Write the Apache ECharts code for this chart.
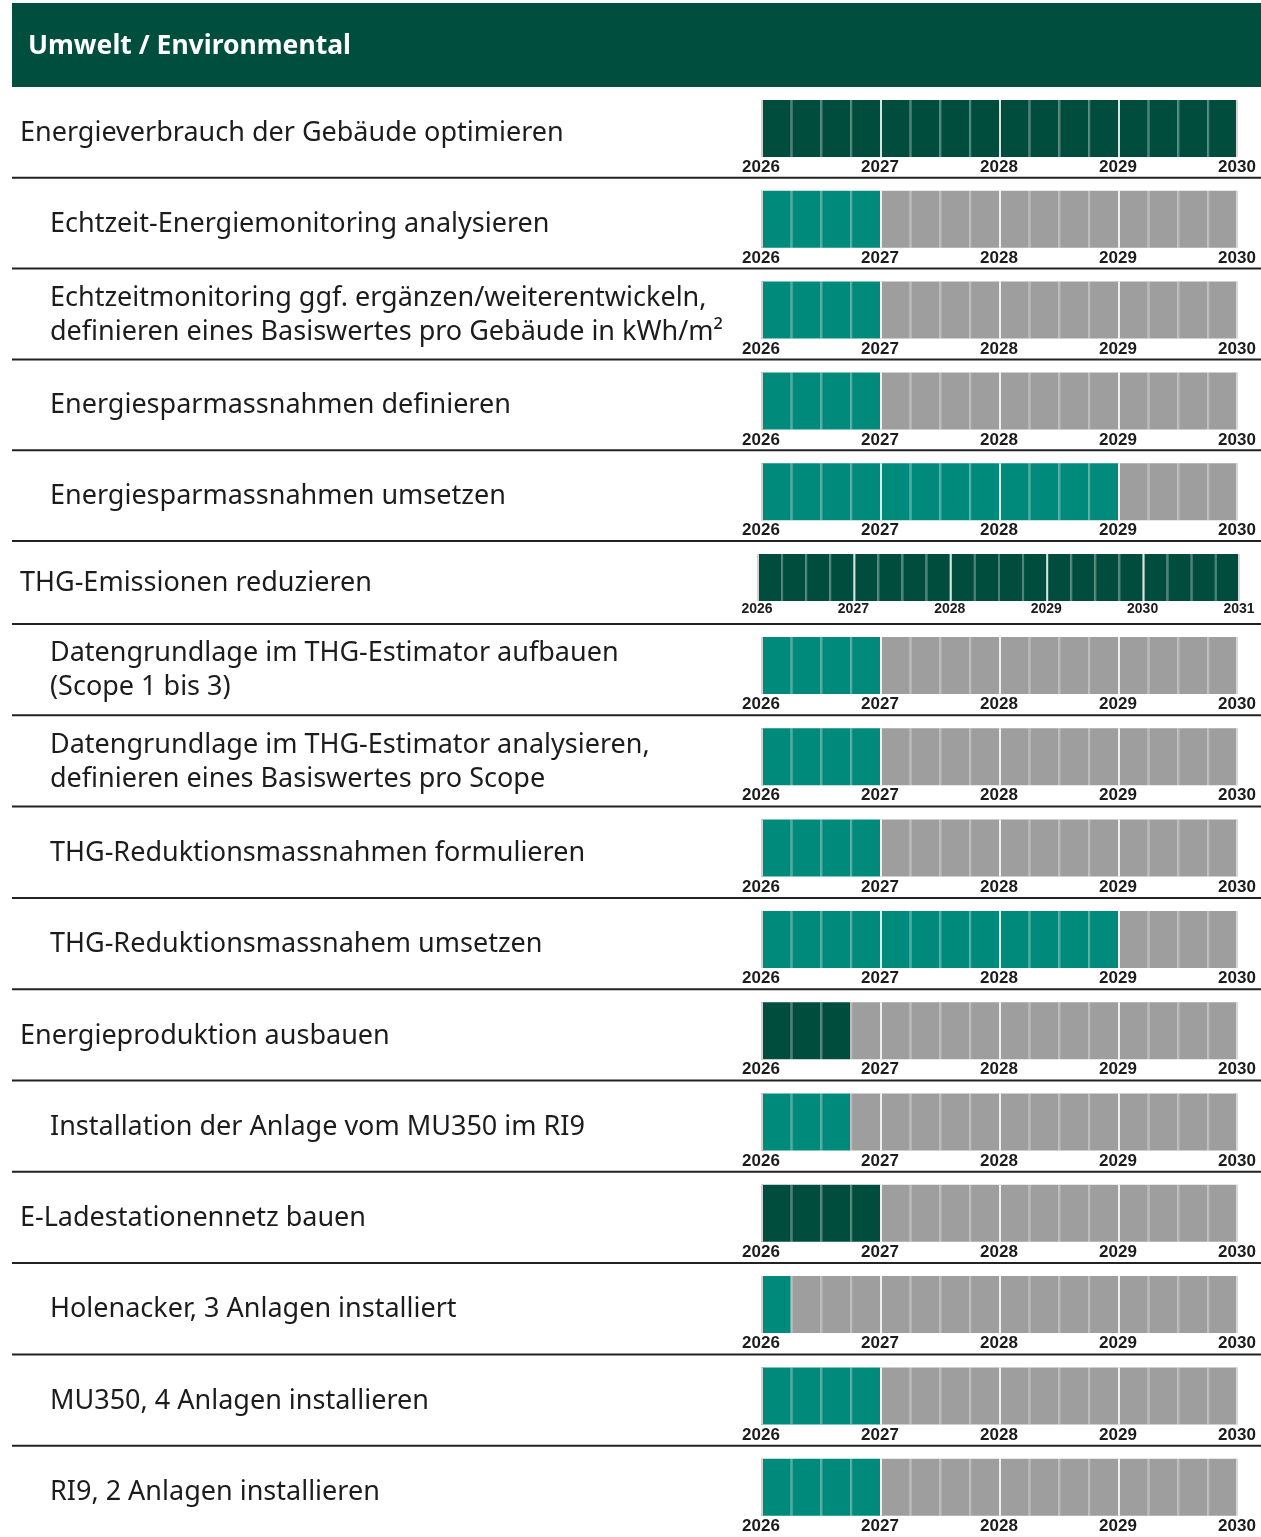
<!DOCTYPE html>
<html>
<head>
<meta charset="utf-8">
<script src="https://cdn.jsdelivr.net/npm/echarts@6/dist/echarts.min.js"></script>
<style>
  body { margin: 0; background: #fff; }
  #roadmapChart { width: 1261px; height: 1537px; }
</style>
</head>
<body>
<div id="roadmapChart"></div>
<script>
// Titel
const title = "Umwelt / Environmental";

// Zeilen (Massnahmen)
const rowLabels = [
  "Energieverbrauch der Gebäude optimieren",
  "Echtzeit-Energiemonitoring analysieren",
  "Echtzeitmonitoring ggf. ergänzen/weiterentwickeln,\ndefinieren eines Basiswertes pro Gebäude in kWh/m²",
  "Energiesparmassnahmen definieren",
  "Energiesparmassnahmen umsetzen",
  "THG-Emissionen reduzieren",
  "Datengrundlage im THG-Estimator aufbauen\n(Scope 1 bis 3)",
  "Datengrundlage im THG-Estimator analysieren,\ndefinieren eines Basiswertes pro Scope",
  "THG-Reduktionsmassnahmen formulieren",
  "THG-Reduktionsmassnahem umsetzen",
  "Energieproduktion ausbauen",
  "Installation der Anlage vom MU350 im RI9",
  "E-Ladestationennetz bauen",
  "Holenacker, 3 Anlagen installiert",
  "MU350, 4 Anlagen installieren",
  "RI9, 2 Anlagen installieren"
];
// 0 = Ziel (Oberpunkt), 1 = Massnahme (eingerückt)
const rowLevel = [0, 1, 1, 1, 1, 0, 1, 1, 1, 1, 0, 1, 0, 1, 1, 1];
// Anzahl aktiver Quartale ab Q1 2026
const activeQuarters = [16, 4, 4, 4, 12, 20, 4, 4, 4, 12, 3, 3, 4, 1, 4, 4];
// Zeitraum in Jahren ab Startjahr
const spanYears = [4, 4, 4, 4, 4, 5, 4, 4, 4, 4, 4, 4, 4, 4, 4, 4];
const startYear = 2026;

const colors = {
  header: "#004f3e",
  goal: "#004d3d",
  measure: "#008a7c",
  rest: "#9d9e9d",
  text: "#1c1c1c"
};

var myChart = echarts.init(document.getElementById("roadmapChart"));

const grids = [], xAxes = [], yAxes = [], series = [];
const graphics = [
  { type: "rect", shape: { x: 12, y: 3, width: 1249, height: 84 }, style: { fill: colors.header } },
  {
    type: "text", x: 28, y: 46,
    style: { text: title, fill: "#fff", fontSize: 26.5, fontWeight: "bold", fontFamily: "Noto Sans", textVerticalAlign: "middle" }
  }
];

let rowTop = 87;
rowLabels.forEach(function (label, i) {
  const small = spanYears[i] === 5;
  const rowH = i < 5 ? 90.8 : (small ? 83 : 91.3);
  const quarters = spanYears[i] * 4;

  grids.push({
    left: small ? 757 : 761,
    width: small ? 482 : 476,
    top: rowTop + 13,
    height: small ? 47 : 57
  });
  xAxes.push({
    gridIndex: i,
    type: "value",
    min: 0,
    max: quarters,
    interval: 4,
    axisLine: { show: false },
    axisTick: { show: false },
    splitLine: { show: false },
    axisLabel: {
      showMinLabel: true,
      showMaxLabel: true,
      margin: small ? 1 : 2,
      fontSize: small ? 14 : 17,
      fontWeight: "bold",
      fontFamily: "Liberation Sans",
      color: colors.text,
      formatter: function (v) { return String(startYear + v / 4); }
    }
  });
  yAxes.push({ gridIndex: i, type: "value", min: 0, max: 1, show: false });

  const data = [];
  for (let q = 0; q < quarters; q++) data.push([q, q < activeQuarters[i] ? 1 : 0]);
  const fill = rowLevel[i] === 0 ? colors.goal : colors.measure;

  series.push({
    type: "custom",
    xAxisIndex: i,
    yAxisIndex: i,
    clip: false,
    silent: true,
    data: data,
    renderItem: function (params, api) {
      const q = api.value(0);
      const p0 = api.coord([q, 1]);
      const p1 = api.coord([q + 1, 0]);
      const children = [{
        type: "rect",
        shape: { x: p0[0], y: p0[1], width: p1[0] - p0[0], height: p1[1] - p0[1] },
        style: { fill: api.value(1) ? fill : colors.rest }
      }];
      let stroke;
      if (q === 0) stroke = "#d2d2d2";
      else if (q % 4 === 0) stroke = "rgba(255,255,255,0.85)";
      else stroke = "rgba(255,255,255,0.3)";
      children.push({
        type: "line",
        shape: { x1: p0[0] + 1, y1: p0[1], x2: p0[0] + 1, y2: p1[1] },
        style: { stroke: stroke, lineWidth: 2 }
      });
      if (q === quarters - 1) {
        children.push({
          type: "line",
          shape: { x1: p1[0], y1: p0[1], x2: p1[0], y2: p1[1] },
          style: { stroke: "#d8d8d8", lineWidth: 2 }
        });
      }
      return { type: "group", children: children };
    }
  });

  graphics.push({
    type: "text",
    x: rowLevel[i] === 0 ? 20 : 50,
    y: rowTop + rowH / 2 + 1,
    style: {
      text: label,
      fill: colors.text,
      fontSize: 27,
      fontFamily: "Noto Sans",
      lineHeight: 34,
      textVerticalAlign: "middle"
    }
  });

  rowTop += rowH;
  if (i < rowLabels.length - 1) {
    graphics.push({
      type: "line",
      shape: { x1: 12, y1: rowTop, x2: 1261, y2: rowTop },
      style: { stroke: "#222", lineWidth: 2 }
    });
  }
});

const option = {
  animation: false,
  grid: grids,
  xAxis: xAxes,
  yAxis: yAxes,
  series: series,
  graphic: graphics
};

myChart.setOption(option);
</script>
</body>
</html>
